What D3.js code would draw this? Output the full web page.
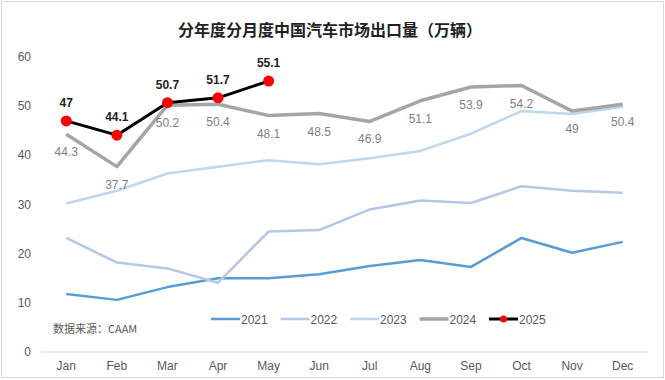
<!DOCTYPE html>
<html>
<head>
<meta charset="utf-8">
<script src="https://cdn.jsdelivr.net/npm/d3@7"></script>
<style>
body { margin: 0; background: #fff; }
text { font-family: "Liberation Sans", Arial, "Noto Sans CJK SC", sans-serif; }
</style>
</head>
<body>
<script>
var months = ["Jan", "Feb", "Mar", "Apr", "May", "Jun", "Jul", "Aug", "Sep", "Oct", "Nov", "Dec"];
var yTicks = [0, 10, 20, 30, 40, 50, 60];
var v2021 = [11.8, 10.6, 13.2, 15.0, 15.0, 15.8, 17.5, 18.7, 17.3, 23.2, 20.2, 22.4];
var v2022 = [23.2, 18.2, 17.0, 14.1, 24.5, 24.8, 29.0, 30.8, 30.3, 33.7, 32.8, 32.4];
var v2023 = [30.2, 32.8, 36.3, 37.7, 39.0, 38.2, 39.4, 40.9, 44.4, 49.0, 48.4, 49.9];
var v2024 = [44.3, 37.7, 50.2, 50.4, 48.1, 48.5, 46.9, 51.1, 53.9, 54.2, 49, 50.4];
var v2025 = [47, 44.1, 50.7, 51.7, 55.1];
var seriesNames = ["2021", "2022", "2023", "2024", "2025"];
var colors = ["#5b9bd5", "#b4c7e7", "#bdd7ee", "#a5a5a5", "#000000"];
var widths = [2.5, 2.5, 2.5, 3.5, 3];

var w = 665, h = 380;
var svg = d3.select("body").append("svg")
	.attr("width", w)
	.attr("height", h);

// outer border
svg.append("rect")
	.attr("x", 1.5).attr("y", 1.5)
	.attr("width", w - 3).attr("height", h - 4)
	.attr("fill", "none")
	.attr("stroke", "#d9d9d9");

svg.append("text")
	.text("分年度分月度中国汽车市场出口量（万辆）")
	.attr("x", 330).attr("y", 36)
	.attr("text-anchor", "middle")
	.attr("font-size", "16px")
	.attr("font-weight", "bold")
	.attr("fill", "#222")
	.style("font-family", "'Noto Sans CJK SC', sans-serif");

var x = d3.scaleBand().domain(months).range([41, 648]);
var y = d3.scaleLinear().domain([0, 60]).range([352, 57]);
function cx(i) { return x(months[i]) + x.bandwidth() / 2; }

// y axis labels
svg.selectAll(".ytick").data(yTicks).enter().append("text")
	.attr("class", "ytick")
	.text(function(d) { return d; })
	.attr("x", 31)
	.attr("y", function(d) { return y(d) + 4; })
	.attr("text-anchor", "end")
	.attr("font-size", "12px")
	.attr("fill", "#595959");

// baseline
svg.append("line")
	.attr("x1", 41).attr("x2", 648)
	.attr("y1", y(0)).attr("y2", y(0))
	.attr("stroke", "#d9d9d9")
	.attr("stroke-width", 1);

// month labels
svg.selectAll(".xtick").data(months).enter().append("text")
	.attr("class", "xtick")
	.text(function(d) { return d; })
	.attr("x", function(d, i) { return cx(i); })
	.attr("y", 370)
	.attr("text-anchor", "middle")
	.attr("font-size", "12px")
	.attr("fill", "#595959");

var line = d3.line()
	.x(function(d, i) { return cx(i); })
	.y(function(d) { return y(d); });

var allData = [v2021, v2022, v2023, v2024, v2025];
svg.selectAll(".series").data(allData).enter().append("path")
	.attr("class", "series")
	.attr("d", function(d) { return line(d); })
	.attr("fill", "none")
	.attr("stroke", function(d, i) { return colors[i]; })
	.attr("stroke-width", function(d, i) { return widths[i]; })
	.attr("stroke-linejoin", "round");

// 2024 labels below
svg.selectAll(".lab24").data(v2024).enter().append("text")
	.attr("class", "lab24")
	.text(function(d) { return d; })
	.attr("x", function(d, i) { return cx(i); })
	.attr("y", function(d) { return y(d) + 22; })
	.attr("text-anchor", "middle")
	.attr("font-size", "12px")
	.attr("fill", "#7f7f7f");

// 2025 markers and labels
svg.selectAll(".dot25").data(v2025).enter().append("circle")
	.attr("class", "dot25")
	.attr("cx", function(d, i) { return cx(i); })
	.attr("cy", function(d) { return y(d); })
	.attr("r", 5.5)
	.attr("fill", "#ff0000");

svg.selectAll(".lab25").data(v2025).enter().append("text")
	.attr("class", "lab25")
	.text(function(d) { return d; })
	.attr("x", function(d, i) { return cx(i); })
	.attr("y", function(d) { return y(d) - 14; })
	.attr("text-anchor", "middle")
	.attr("font-size", "12px")
	.attr("font-weight", "bold")
	.attr("fill", "#222");

// legend
var legend = svg.selectAll(".legend").data(seriesNames).enter().append("g")
	.attr("class", "legend")
	.attr("transform", function(d, i) { return "translate(" + (211 + i * 69.5) + ",319)"; });
legend.append("line")
	.attr("x1", 0).attr("x2", 29)
	.attr("y1", 0).attr("y2", 0)
	.attr("stroke", function(d, i) { return colors[i]; })
	.attr("stroke-width", function(d, i) { return widths[i]; });
legend.filter(function(d) { return d === "2025"; }).append("circle")
	.attr("cx", 14.5).attr("cy", 0).attr("r", 3.5)
	.attr("fill", "#ff0000");
legend.append("text")
	.text(function(d) { return d; })
	.attr("x", 30).attr("y", 4.5)
	.attr("font-size", "12px")
	.attr("fill", "#595959");

svg.append("text")
	.text("数据来源：CAAM")
	.attr("x", 53).attr("y", 333)
	.attr("font-size", "11px")
	.attr("fill", "#595959")
	.style("font-family", "'Noto Sans CJK SC', sans-serif");
</script>
</body>
</html>
